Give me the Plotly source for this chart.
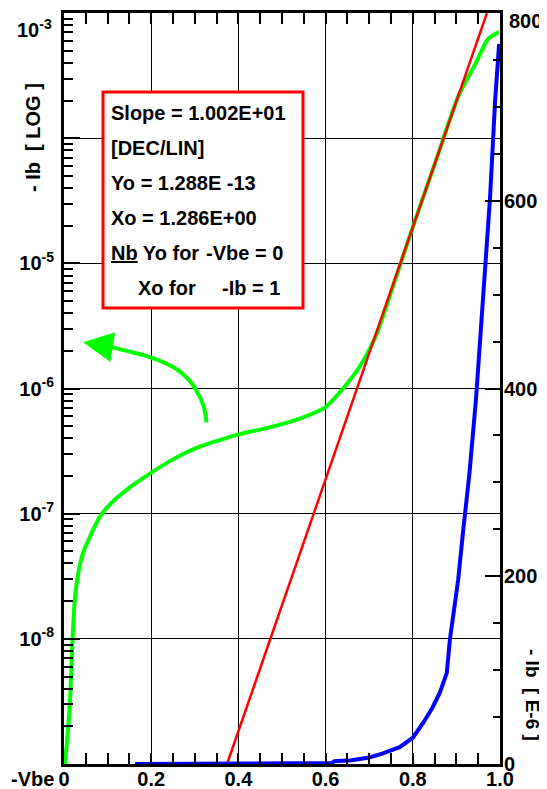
import plotly.graph_objects as go

# ---------- data ----------
# green: -Ib on log axis vs -Vbe
vbe_green = [0.002, 0.009, 0.014, 0.019, 0.022, 0.025, 0.033, 0.044, 0.060, 0.083,
             0.113, 0.151, 0.197, 0.243, 0.300, 0.350, 0.397, 0.472, 0.541, 0.599,
             0.640, 0.679, 0.706, 0.720, 0.800, 0.850, 0.905, 0.943, 0.972, 0.998]
log_ib_green = [-9.0, -8.74, -8.48, -8.05, -7.84, -7.68, -7.47, -7.31, -7.18, -7.02,
                -6.90, -6.79, -6.68, -6.58, -6.48, -6.42, -6.37, -6.31, -6.24, -6.15,
                -6.00, -5.82, -5.65, -5.54, -4.71, -4.21, -3.66, -3.41, -3.21, -3.15]

# red: fitted straight line (log axis)
vbe_red = [0.374, 0.970]
log_ib_red = [-9.0, -3.0]

# blue: -Ib in E-6 on linear right axis
vbe_blue = [0.163, 0.450, 0.452, 0.615, 0.620, 0.660, 0.700, 0.730, 0.770, 0.800,
            0.824, 0.845, 0.862, 0.878, 0.885, 0.904, 0.915, 0.930, 0.945, 0.961,
            0.977, 0.989, 0.998]
ib_blue = [0, 0, 1, 1, 3, 4, 7, 11, 18, 28,
           44, 60, 76, 97, 132, 196, 246, 310, 389, 495,
           602, 708, 767]

# curved arrow (tail -> base of head)
vbe_arrow = [0.327, 0.320, 0.304, 0.285, 0.258, 0.220, 0.182, 0.144, 0.106, 0.099]
log_ib_arrow = [-6.271, -6.138, -6.018, -5.925, -5.845, -5.779, -5.733, -5.699, -5.667, -5.662]

x_ticks = [0, 0.2, 0.4, 0.6, 0.8, 1.0]
x_ticktext = ['0', '0.2', '0.4', '0.6', '0.8', '1.0']
y_log_exp = [-8, -7, -6, -5, -4, -3]
y_log_ticktext = ['10<sup>-8</sup>', '10<sup>-7</sup>', '10<sup>-6</sup>', '10<sup>-5</sup>', '', '']
y2_ticks = [0, 200, 400, 600, 800]
y2_ticktext = ['0', '200', '400', '600', '']

box_lines = ['Slope = 1.002E+01', '[DEC/LIN]', 'Yo = 1.288E -13', 'Xo = 1.286E+00']

FONT = 'Liberation Sans, Arial, sans-serif'
OFF = 8  # page body margin
W, H = 547 - OFF, 789 - OFF
L, R, T, B = 56, 47, 5, 25


def px(x):
    # reference pixel x -> paper
    return (x - OFF - L) / (W - L - R)


def py(y):
    return (H - B - (y - OFF)) / (H - T - B)


fig = go.Figure()
fig.add_trace(go.Scatter(x=vbe_green, y=[10 ** v for v in log_ib_green], mode='lines',
                         line=dict(color='#00ff00', width=4, shape='spline', smoothing=0.6),
                         yaxis='y'))
fig.add_trace(go.Scatter(x=vbe_arrow, y=[10 ** v for v in log_ib_arrow], mode='lines',
                         line=dict(color='#00ff00', width=4, shape='spline'), yaxis='y'))
fig.add_trace(go.Scatter(x=vbe_blue, y=ib_blue, mode='lines',
                         line=dict(color='#0000ff', width=4), yaxis='y2'))
fig.add_trace(go.Scatter(x=vbe_red, y=[10 ** v for v in log_ib_red], mode='lines',
                         line=dict(color='#ff0000', width=2.5), yaxis='y'))

# arrow head
fig.add_annotation(x=0.044, y=-5.63, ax=0.099, ay=-5.662, axref='x', ayref='y',
                   xref='x', yref='y', text='', showarrow=True, arrowhead=2,
                   arrowsize=1.5, arrowwidth=4, arrowcolor='#00ff00', standoff=0)

tf = dict(family=FONT, size=20, color='black', weight='bold')
fig.update_layout(
    width=W, height=H, margin=dict(l=L, r=R, t=T, b=B),
    plot_bgcolor='white', paper_bgcolor='white', showlegend=False,
    xaxis=dict(range=[0, 1], tickvals=x_ticks, ticktext=x_ticktext, tickfont=tf,
               ticks='inside', ticklen=11, tickwidth=1.5, tickcolor='black',
               ticklabelstandoff=-5,
               showline=True, linewidth=3, linecolor='black', mirror='ticks',
               showgrid=True, gridcolor='black', gridwidth=1, zeroline=False,
               minor=dict(dtick=0.05, ticks='inside', ticklen=11, tickwidth=1.5,
                          tickcolor='black', showgrid=False),
               automargin=False),
    yaxis=dict(type='log', range=[-9, -2.9995], tickvals=[10 ** e for e in y_log_exp],
               ticktext=y_log_ticktext, tickfont=tf, ticklabelstandoff=3,
               ticks='inside', ticklen=16, tickwidth=1.5, tickcolor='black',
               showline=True, linewidth=3, linecolor='black',
               showgrid=True, gridcolor='black', gridwidth=1, zeroline=False,
               minor=dict(dtick='D1', ticks='inside', ticklen=9, tickwidth=1.5,
                          tickcolor='black', showgrid=False),
               automargin=False),
    yaxis2=dict(overlaying='y', side='right', range=[0, 800], tickvals=y2_ticks,
                ticktext=y2_ticktext, ticklabelstandoff=-3,
                tickfont=tf, ticks='inside', ticklen=15, tickwidth=1.5, tickcolor='black',
                showline=True, linewidth=3, linecolor='black', showgrid=False,
                zeroline=False,
                minor=dict(dtick=50, ticks='inside', ticklen=7, tickwidth=1.5,
                           tickcolor='black'),
                automargin=False),
)

# top labels placed by hand (they sit below their tick in the reference)
fig.add_annotation(x=px(54), y=py(28), xref='paper', yref='paper', text='10<sup>-3</sup>',
                   showarrow=False, xanchor='right', yanchor='middle', font=tf)
fig.add_annotation(x=px(507), y=py(21), xref='paper', yref='paper', text='800',
                   showarrow=False, xanchor='left', yanchor='middle', font=tf)

# text box
fig.add_shape(type='rect', xref='paper', yref='paper', x0=px(103), x1=px(303),
              y0=py(308), y1=py(92), line=dict(color='#ff0000', width=3),
              fillcolor='white', layer='above')
bf = dict(family=FONT, size=20, color='black', weight='bold')
for i, t in enumerate(box_lines):
    fig.add_annotation(x=px(109), y=py(113 + 35 * i), xref='paper', yref='paper',
                       text=t, showarrow=False, xanchor='left', yanchor='middle', font=bf)
fig.add_annotation(x=px(109), y=py(253), xref='paper', yref='paper', text='<u>Nb</u> Yo for',
                   showarrow=False, xanchor='left', yanchor='middle', font=bf)
fig.add_annotation(x=px(204), y=py(253), xref='paper', yref='paper', text='-Vbe = 0',
                   showarrow=False, xanchor='left', yanchor='middle', font=bf)
fig.add_annotation(x=px(136), y=py(288), xref='paper', yref='paper', text='Xo for',
                   showarrow=False, xanchor='left', yanchor='middle', font=bf)
fig.add_annotation(x=px(220), y=py(288), xref='paper', yref='paper', text='-Ib = 1',
                   showarrow=False, xanchor='left', yanchor='middle', font=bf)

# axis titles
fig.add_annotation(x=px(33), y=py(138), xref='paper', yref='paper', text='- Ib  [ LOG ]',
                   showarrow=False, textangle=-90, xanchor='center', yanchor='middle', font=tf)
fig.add_annotation(x=px(533), y=py(695), xref='paper', yref='paper', text='- Ib  [ E-6 ]',
                   showarrow=False, textangle=90, xanchor='center', yanchor='middle',
                   font=dict(family=FONT, size=19, color='black', weight='bold'))
fig.add_annotation(x=px(56), y=py(779), xref='paper', yref='paper', text='-Vbe',
                   showarrow=False, xanchor='right', yanchor='middle', font=tf)

fig.write_html("out.html")
